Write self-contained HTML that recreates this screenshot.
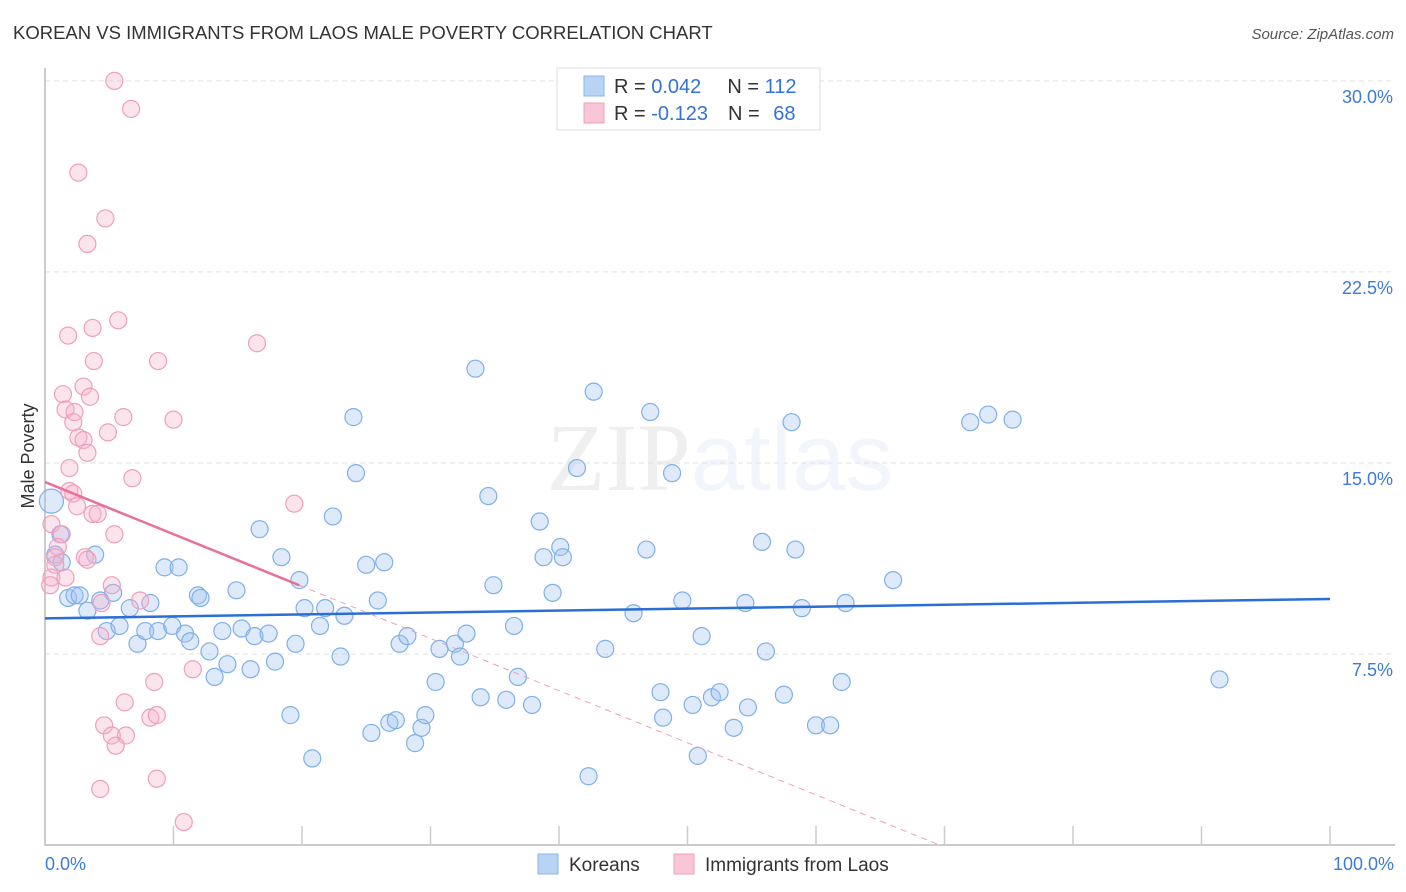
<!DOCTYPE html>
<html><head><meta charset="utf-8">
<style>
body{margin:0;background:#fff;font-family:"Liberation Sans",sans-serif;}
svg{display:block}
</style></head><body>
<svg id="chart" width="1406" height="892" xmlns="http://www.w3.org/2000/svg" font-family="Liberation Sans, sans-serif">
<text x="13" y="39" font-size="18.5" fill="#333">KOREAN VS IMMIGRANTS FROM LAOS MALE POVERTY CORRELATION CHART</text>
<text x="1394" y="39" font-size="15" fill="#555" text-anchor="end" font-style="italic">Source: ZipAtlas.com</text>
<text x="720" y="490" font-size="96" text-anchor="middle" fill="#000" opacity="0.06" font-family="Liberation Serif, serif">ZIP<tspan fill="#3b7ddd" font-family="Liberation Sans, sans-serif">atlas</tspan></text>
<g id="grid"></g>
<g id="axes"></g>
<g id="pts"></g>
<g id="trends"></g>
<text transform="translate(34,456) rotate(-90)" font-size="18" fill="#333" text-anchor="middle">Male Poverty</text>
<g>
<rect x="557" y="68" width="263" height="62" fill="#fff" stroke="#ddd"/>
<rect x="584" y="76" width="20" height="20" fill="#b9d3f5" stroke="#8ab4ea"/>
<rect x="584" y="103" width="20" height="20" fill="#f8c6d6" stroke="#ef9fbb"/>
<text x="614" y="93" font-size="20" fill="#333">R = <tspan fill="#3373d6">0.042</tspan><tspan dx="26">N = </tspan><tspan fill="#3373d6">112</tspan></text>
<text x="614" y="120" font-size="20" fill="#333">R = <tspan fill="#3373d6">-0.123</tspan><tspan dx="20">N = </tspan><tspan fill="#3373d6" dx="8">68</tspan></text>
</g>
<g>
<rect x="538" y="854" width="20" height="20" fill="#b9d3f5" stroke="#8ab4ea"/>
<text x="569" y="871" font-size="19" fill="#333">Koreans</text>
<rect x="674" y="854" width="20" height="20" fill="#f8c6d6" stroke="#ef9fbb"/>
<text x="705" y="871" font-size="19" fill="#333">Immigrants from Laos</text>
</g>
</svg>
<script>
const yTicks=[7.5,15,22.5,30];
const yTickLabels=["7.5%","15.0%","22.5%","30.0%"];
const xTickLabels=["0.0%","100.0%"];
const blueX=[0.5,1.2,0.8,1.3,1.8,2.3,2.7,3.3,3.9,4.3,4.8,5.3,5.8,6.6,7.2,7.8,8.2,8.8,9.3,9.9,10.4,10.9,11.3,11.9,12.1,12.8,13.2,13.8,14.2,14.9,15.3,16.0,16.3,16.7,17.4,17.9,18.4,19.1,19.5,19.8,20.2,20.8,21.4,21.8,22.4,23.0,23.3,24.0,24.2,25.0,25.4,25.9,26.4,26.8,27.3,27.6,28.2,28.8,29.3,29.6,30.4,30.7,31.9,32.3,32.8,33.5,33.9,34.5,34.9,35.9,36.5,36.8,37.9,38.5,38.8,39.5,40.1,40.3,41.4,42.3,42.7,43.6,45.8,46.8,47.1,47.9,48.1,48.8,49.6,50.4,50.8,51.1,51.9,52.5,53.6,54.5,54.7,55.8,56.1,57.5,58.1,58.4,58.9,60.0,61.1,62.0,62.3,66.0,72.0,73.4,75.3,91.4];
const blueY=[13.5,12.2,11.4,11.1,9.7,9.8,9.8,9.2,11.4,9.6,8.4,9.9,8.6,9.3,7.9,8.4,9.5,8.4,10.9,8.6,10.9,8.3,8.0,9.8,9.7,7.6,6.6,8.4,7.1,10.0,8.5,6.9,8.2,12.4,8.3,7.2,11.3,5.1,7.9,10.4,9.3,3.4,8.6,9.3,12.9,7.4,9.0,16.8,14.6,11.0,4.4,9.6,11.1,4.8,4.9,7.9,8.2,4.0,4.6,5.1,6.4,7.7,7.9,7.4,8.3,18.7,5.8,13.7,10.2,5.7,8.6,6.6,5.5,12.7,11.3,9.9,11.7,11.3,14.8,2.7,17.8,7.7,9.1,11.6,17.0,6.0,5.0,14.6,9.6,5.5,3.5,8.2,5.8,6.0,4.6,9.5,5.4,11.9,7.6,5.9,16.6,11.6,9.3,4.7,4.7,6.4,9.5,10.4,16.6,16.9,16.7,6.5];
const pinkX=[5.4,6.7,2.6,4.7,3.3,5.7,3.7,1.8,16.5,8.8,3.8,3.0,1.4,3.5,1.6,6.1,10.0,2.3,2.2,2.6,4.9,3.0,3.3,1.9,6.8,1.9,2.2,2.5,19.4,3.7,4.1,0.5,1.3,1.0,0.8,5.4,3.1,3.3,0.8,0.5,1.6,0.4,5.2,7.4,4.4,4.3,11.5,8.5,6.2,4.6,8.2,8.7,5.2,6.3,5.5,8.7,4.3,10.8];
const pinkY=[30.0,28.9,26.4,24.6,23.6,20.6,20.3,20.0,19.7,19.0,19.0,18.0,17.7,17.6,17.1,16.8,16.7,17.0,16.6,16.0,16.2,15.9,15.4,14.8,14.4,13.9,13.8,13.3,13.4,13.0,13.0,12.6,12.2,11.7,11.3,12.2,11.3,11.2,11.0,10.5,10.5,10.2,10.2,9.6,9.5,8.2,6.9,6.4,5.6,4.7,5.0,5.1,4.3,4.3,3.9,2.6,2.2,0.9];
const blueTrend=[8.9,9.66];
const pinkTrend=[14.25,-0.2047];
const NS="http://www.w3.org/2000/svg";
const X=v=>45+v*12.85, Y=v=>845-v*25.47;
function mk(p,t,a){const e=document.createElementNS(NS,t);for(const k in a)e.setAttribute(k,a[k]);p.appendChild(e);return e;}
const grid=document.getElementById('grid'),axes=document.getElementById('axes'),pts=document.getElementById('pts'),tr=document.getElementById('trends');
yTicks.forEach((v,i)=>{
 const l=mk(grid,'line',{x1:45,x2:1395,y1:Y(v),y2:Y(v),stroke:'#e2e2e2','stroke-dasharray':'5,4'});
 
 
 const t=mk(grid,'text',{x:1393,y:Y(v)+22,'font-size':18,fill:'#3d7bd8','text-anchor':'end'});
 t.textContent=yTickLabels[i];
 
 
});
const ax=mk(axes,'path',{d:'M45,68V845H1395',fill:'none',stroke:'#bbb','stroke-width':1.5});


for(let i=1;i<=10;i++){const tk=mk(axes,'line',{x1:X(i*10),x2:X(i*10),y1:826,y2:845,stroke:'#ccc','stroke-width':1.5});
 
 }
[[0,'start',45],[100,'end',1394]].forEach((d,i)=>{const t=mk(axes,'text',{x:d[2],y:870,'font-size':18,fill:'#3d7bd8','text-anchor':d[1]});t.textContent=xTickLabels[i];
 
 });
blueX.forEach((x,i)=>{const c=mk(pts,'circle',{cx:X(x),cy:Y(blueY[i]),r:i==0?12:8.5,fill:'rgba(160,196,240,0.35)',stroke:'#7eb0ea','stroke-width':1.2});
 
 });
pinkX.forEach((x,i)=>{const c=mk(pts,'circle',{cx:X(x),cy:Y(pinkY[i]),r:8.5,fill:'rgba(246,178,202,0.35)',stroke:'#ee9fbc','stroke-width':1.2});
 
 });
const b=mk(tr,'line',{x1:X(0),y1:Y(blueTrend[0]),x2:X(100),y2:Y(blueTrend[1]),stroke:'#2a6fd6','stroke-width':2.5});


const pe=19.8,pz=-pinkTrend[0]/pinkTrend[1];
const p1=mk(tr,'line',{x1:X(0),y1:Y(pinkTrend[0]),x2:X(pe),y2:Y(pinkTrend[0]+pinkTrend[1]*pe),stroke:'#e8709a','stroke-width':2.5});


const p2=mk(tr,'line',{x1:X(pe),y1:Y(pinkTrend[0]+pinkTrend[1]*pe),x2:X(pz),y2:Y(0),stroke:'#eaa0bb','stroke-width':1,'stroke-dasharray':'6,5'});


</script>
</body></html>
